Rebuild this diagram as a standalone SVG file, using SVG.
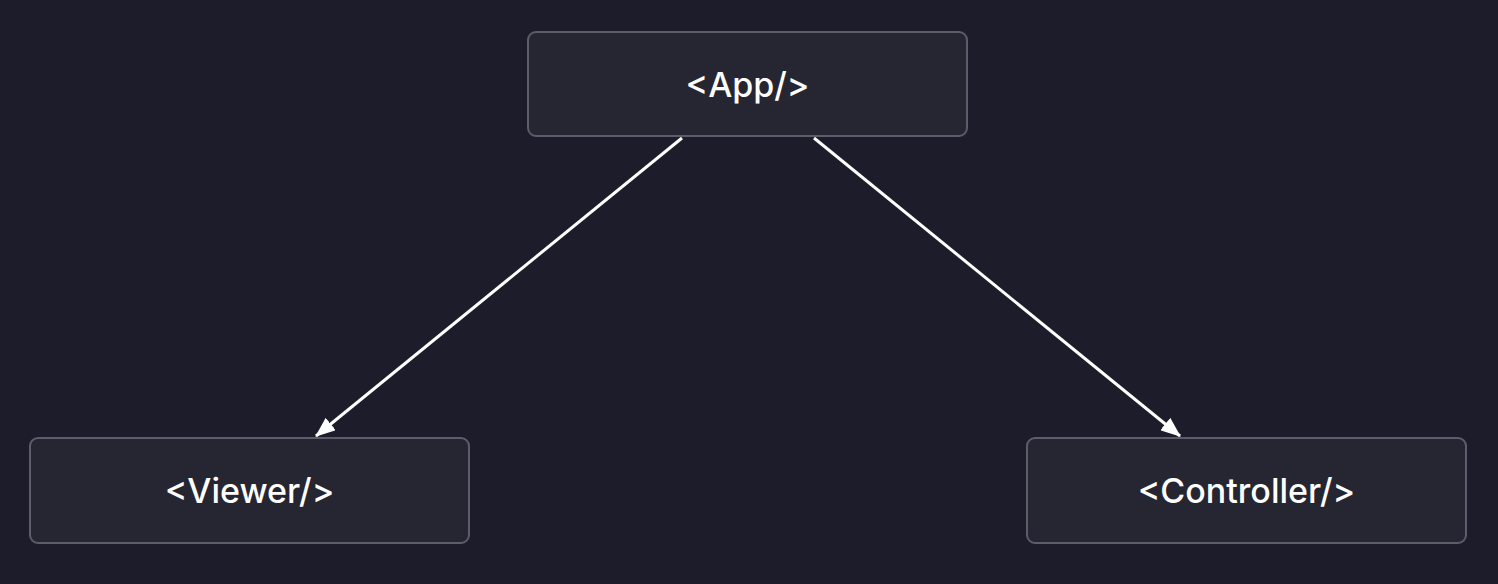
<svg xmlns="http://www.w3.org/2000/svg" width="1498" height="584" viewBox="0 0 1498 584">
<style>
.node rect{fill:#262633;stroke:#5c5c6b;stroke-width:2}
.node text{font-family:Inter,"Noto Sans","Liberation Sans",sans-serif;font-size:34px;font-weight:500;fill:#ffffff;text-anchor:middle;dominant-baseline:central}
.edge{stroke:#ffffff;stroke-width:3;fill:none}
</style>
<defs>
<marker id="ah" viewBox="0 0 20 16" refX="19" refY="8" markerWidth="20" markerHeight="16" markerUnits="userSpaceOnUse" orient="auto">
<path d="M0,0 L20,8 L0,16 z" fill="#ffffff"/>
</marker>
</defs>
<rect width="1498" height="584" fill="#1c1c2b"/>
<g id="connectors">
<line class="edge" x1="682" y1="138" x2="316" y2="436" marker-end="url(#ah)"/>
<line class="edge" x1="814" y1="138" x2="1180" y2="436" marker-end="url(#ah)"/>
</g>
<g id="app" class="node">
<rect x="528" y="32" width="439" height="104" rx="8"/>
<text x="747.5" y="84">&lt;App/&gt;</text>
</g>
<g id="viewer" class="node">
<rect x="30" y="438" width="439" height="105" rx="8"/>
<text x="249.5" y="490.5">&lt;Viewer/&gt;</text>
</g>
<g id="controller" class="node">
<rect x="1027" y="438" width="439" height="105" rx="8"/>
<text x="1246.5" y="490.5">&lt;Controller/&gt;</text>
</g>
</svg>
